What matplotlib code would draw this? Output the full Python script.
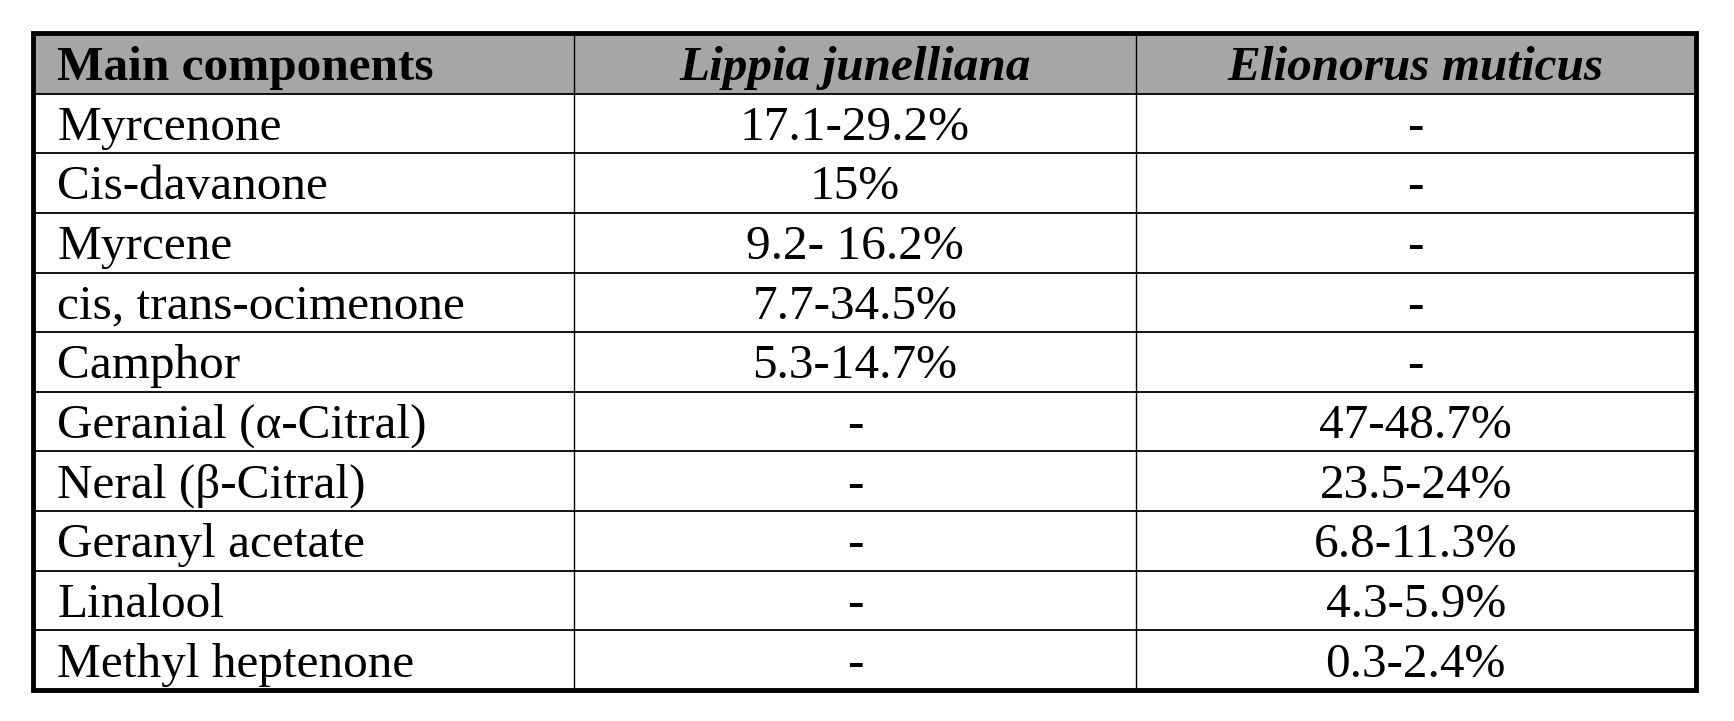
import matplotlib
matplotlib.use("Agg")
import matplotlib.pyplot as plt
from matplotlib.patches import Rectangle

headers = ["Main components", "Lippia junelliana", "Elionorus muticus"]
components = ["Myrcenone", "Cis-davanone", "Myrcene", "cis, trans-ocimenone", "Camphor",
              "Geranial (\u03b1-Citral)", "Neral (\u03b2-Citral)", "Geranyl acetate", "Linalool",
              "Methyl heptenone"]
lippia = ["17.1-29.2%", "15%", "9.2- 16.2%", "7.7-34.5%", "5.3-14.7%", "-", "-", "-", "-", "-"]
elionorus = ["-", "-", "-", "-", "-", "47-48.7%", "23.5-24%", "6.8-11.3%", "4.3-5.9%", "0.3-2.4%"]

fig = plt.figure(figsize=(17.34, 7.21), dpi=100)
ax = fig.add_axes([0, 0, 1, 1])
ax.set_xlim(0, 1); ax.set_ylim(0, 1); ax.axis("off")

L, R = 0.019, 0.978
T, B = 1 - 0.046, 1 - 0.957
HB = 1 - 0.130
cols = [L, 0.331, 0.655, R]
n = len(components)
rh = (HB - B) / n
fam = ["Liberation Serif", "DejaVu Serif"]
fs = 35.5
dy = -0.006

ax.add_patch(Rectangle((L, HB), R - L, T - HB, facecolor="#a6a6a6", edgecolor="none"))
for i, h in enumerate(headers):
    yc = (T + HB) / 2 + dy
    if i == 0:
        ax.text(L + 0.014, yc, h, ha="left", va="center", fontsize=fs, fontweight="bold", family=fam)
    else:
        ax.text((cols[i] + cols[i+1]) / 2, yc, h, ha="center", va="center", fontsize=fs,
                fontweight="bold", style="italic", family=fam)

for r in range(n):
    yc = HB - (r + 0.5) * rh + dy
    ax.text(L + 0.014, yc, components[r], ha="left", va="center", fontsize=fs, family=fam)
    ax.text((cols[1] + cols[2]) / 2, yc, lippia[r], ha="center", va="center", fontsize=fs, family=fam)
    ax.text((cols[2] + cols[3]) / 2, yc, elionorus[r], ha="center", va="center", fontsize=fs, family=fam)
    if r > 0:
        y = HB - r * rh
        ax.plot([L, R], [y, y], color="black", lw=1.3)

ax.plot([L, R], [HB, HB], color="black", lw=1.3)
for x in cols[1:3]:
    ax.plot([x, x], [B, T], color="black", lw=1.0)
ax.add_patch(Rectangle((L, B), R - L, T - B, fill=False, edgecolor="black", lw=3.5))

fig.savefig("out.png", dpi=100, facecolor="white")
